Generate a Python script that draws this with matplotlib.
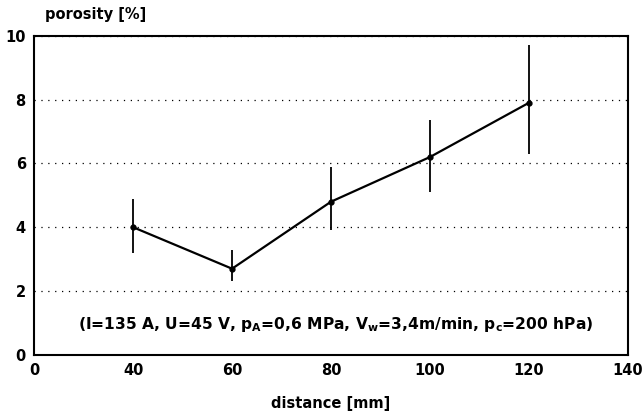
#!/usr/bin/env python

import numpy as np
import matplotlib
matplotlib.use('Agg')
import matplotlib.pyplot as plt

distance = [40, 60, 80, 100, 120]
porosity = [4.0, 2.7, 4.8, 6.2, 7.9]
err_low = [0.8, 0.4, 0.9, 1.1, 1.6]
err_high = [0.9, 0.6, 1.1, 1.15, 1.8]

x_ticks = [20, 40, 60, 80, 100, 120, 140]
x_labels = ['0', '40', '60', '80', '100', '120', '140']
y_ticks = [0, 2, 4, 6, 8, 10]

plt.rcParams['font.family'] = ['DejaVu Sans']
plt.rcParams['font.weight'] = 'bold'


def main() -> None:
    fig = plt.figure(figsize=(6.44, 4.16), dpi=100)
    ax = fig.add_axes([0.053, 0.147, 0.922, 0.767])

    ax.errorbar(distance, porosity, yerr=[err_low, err_high], color='black',
                lw=1.6, elinewidth=1.3, capsize=0, marker='o', ms=3.5)
    ax.grid(axis='y', linestyle=(0, (1, 4.5)), color='black', lw=0.9)
    ax.set_xlim(20, 140)
    ax.set_ylim(0, 10)
    ax.set_xticks(x_ticks, x_labels)
    ax.set_yticks(y_ticks)
    ax.tick_params(labelsize=10.5, length=0, pad=6)
    for s in ax.spines.values():
        s.set_linewidth(1.5)

    fig.text(0.07, 0.964, 'porosity [%]', fontsize=10.5, ha='left', va='center')
    fig.text(0.514, 0.031, 'distance [mm]', fontsize=10.5, ha='center', va='center')
    ax.text(81, 0.95, r'(I=135 A, U=45 V, p$_\mathbf{A}$=0,6 MPa, '
            r'V$_\mathbf{w}$=3,4m/min, p$_\mathbf{c}$=200 hPa)',
            fontsize=11.2, ha='center', va='center')

    fig.savefig('out.png', dpi=100)


if __name__ == '__main__':
    main()
